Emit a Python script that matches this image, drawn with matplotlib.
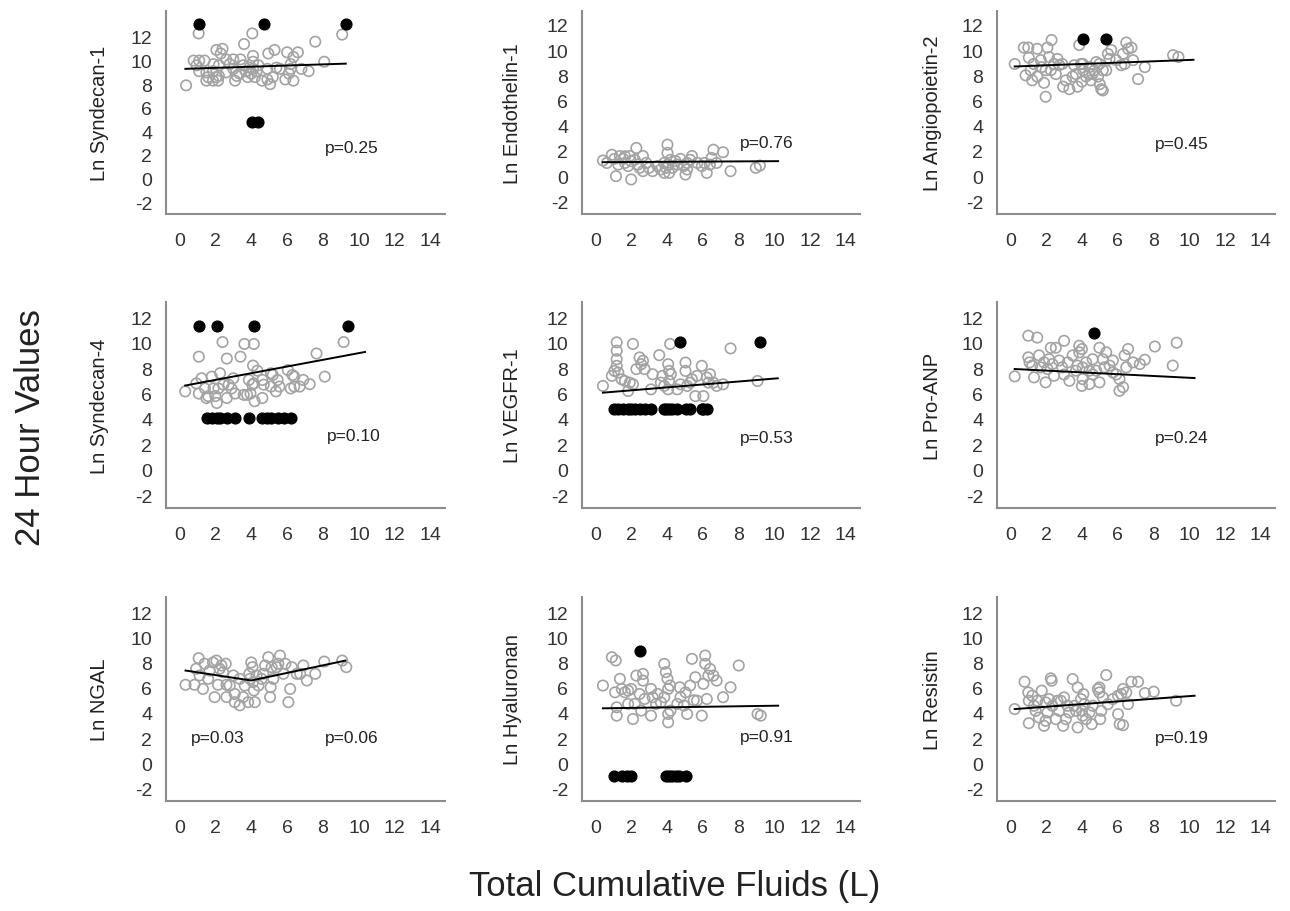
"""
24 hour biomarker values vs total cumulative fluids, 3x3 grid of scatter plots
"""

import matplotlib
matplotlib.use('Agg')
import matplotlib.pyplot as plt

plt.rcParams['font.family'] = ['Liberation Sans', 'DejaVu Sans']

x_ticks = [0, 2, 4, 6, 8, 10, 12, 14]
y_ticks = [-2, 0, 2, 4, 6, 8, 10, 12]

# Ln Syndecan-1
syn1_x = [1.07, 4.06, 3.6, 7.57, 9.07, 8.07, 0.37, 0.79, 1.1, 1.4, 2.06, 2.4, 2.3, 2.6, 3.0, 3.4,
          4.1, 4.95, 5.3, 6.0, 6.6, 6.35, 1.1, 1.5, 1.87, 1.5, 1.87, 2.05, 2.2, 2.6, 3.1, 3.2, 3.7,
          4.0, 4.3, 4.6, 5.05, 5.2, 5.6, 6.1, 6.35, 6.8, 7.2, 4.1, 4.4, 4.9, 5.4, 6.2, 3.0, 3.55,
          2.2, 1.9, 2.8, 3.35, 3.8, 4.2, 1.6, 2.15, 4.9, 5.9, 6.2, 4.1, 3.9, 0.95]
syn1_y = [12.3, 12.3, 11.4, 11.6, 12.2, 9.9, 7.9, 10.0, 10.0, 10.0, 10.9, 11.0, 10.6, 10.1, 10.1, 10.1,
          10.4, 10.6, 10.9, 10.7, 10.7, 10.3, 9.1, 9.0, 9.1, 8.3, 8.3, 8.6, 8.7, 9.0, 8.3, 8.7, 9.1,
          8.9, 9.1, 8.3, 8.0, 8.6, 9.3, 8.9, 8.3, 9.3, 9.1, 9.9, 9.6, 9.3, 9.4, 9.7, 9.3, 9.6,
          9.6, 9.7, 9.7, 8.9, 8.6, 8.6, 8.6, 8.3, 8.4, 8.4, 9.3, 9.3, 9.4, 9.6]
syn1_cens_x = [1.07, 4.73, 9.3, 4.06, 4.39]
syn1_cens_y = [13.1, 13.1, 13.1, 4.8, 4.8]
syn1_fit_x = [0.33, 9.27]
syn1_fit_y = [9.3, 9.74]

# Ln Endothelin-1
et1_x = [0.42, 0.92, 1.15, 1.37, 1.65, 1.92, 2.0, 2.29, 2.38, 2.66, 2.66, 3.0, 3.2, 3.48, 3.85, 4.03,
         4.03, 3.94, 4.12, 4.2, 4.58, 4.95, 5.04, 5.13, 5.3, 5.4, 5.7, 6.1, 6.23, 6.5, 6.6, 6.78,
         7.14, 7.56, 8.97, 9.2, 0.64, 1.28, 1.56, 1.83, 2.2, 2.47, 2.84, 3.66, 3.85, 4.07, 4.3,
         4.49, 4.76, 5.13, 5.95, 6.4, 2.0, 1.65, 1.06]
et1_y = [1.24, 1.7, 0.0, 1.6, 1.05, 1.6, -0.26, 2.24, 0.92, 1.6, 0.4, 0.66, 0.4, 0.8, 1.05, 2.5,
         1.85, 0.66, 0.26, 1.3, 0.92, 0.8, 0.13, 0.53, 1.3, 1.6, 1.05, 1.05, 0.26, 1.45, 2.1, 1.05,
         1.9, 0.4, 0.66, 0.84, 1.05, 0.92, 1.37, 0.8, 1.3, 0.66, 1.05, 0.53, 0.26, 0.92, 0.66,
         1.19, 1.37, 1.05, 0.8, 0.92, 1.19, 1.58, 1.37]
et1_cens_x = []
et1_cens_y = []
et1_fit_x = [0.42, 10.22]
et1_fit_y = [1.11, 1.19]

# Ln Angiopoietin-2
ang2_x = [0.24, 0.75, 1.0, 1.03, 1.13, 1.22, 1.5, 1.5, 1.7, 1.75, 1.88, 1.97, 2.07, 2.16, 2.26, 2.3,
          2.44, 2.54, 2.73, 2.95, 3.1, 3.3, 3.48, 3.67, 3.76, 3.85, 3.95, 4.0, 4.08, 4.23, 4.42,
          4.5, 4.6, 4.8, 4.9, 5.0, 5.08, 5.17, 4.98, 5.17, 5.36, 5.45, 5.55, 5.64, 5.92, 6.2, 6.3,
          6.48, 6.58, 6.39, 6.77, 6.86, 7.14, 7.52, 9.1, 9.4, 0.85, 1.3, 1.97, 2.63, 2.9, 3.57,
          4.05, 4.42, 4.7]
ang2_y = [8.9, 10.2, 10.2, 9.4, 8.4, 7.6, 7.9, 10.1, 9.2, 8.65, 7.4, 6.3, 10.2, 9.45, 8.4, 10.8,
          8.9, 8.1, 8.8, 7.1, 7.6, 6.9, 7.9, 8.1, 7.1, 10.4, 8.9, 7.5, 8.4, 7.9, 8.65,
          7.6, 8.1, 9.05, 7.9, 7.3, 6.9, 6.8, 8.9, 8.4, 8.4, 9.7, 9.3, 10.0, 9.2, 8.8, 9.7,
          10.6, 10.1, 8.9, 10.2, 9.2, 7.7, 8.65, 9.6, 9.45, 8.0, 8.9, 8.4, 9.3, 8.9, 8.8,
          8.9, 8.1, 8.4]
ang2_cens_x = [4.08, 5.36]
ang2_cens_y = [10.85, 10.85]
ang2_fit_x = [0.24, 10.24]
ang2_fit_y = [8.7, 9.23]

# Ln Syndecan-4
syn4_x = [0.32, 1.08, 1.08, 1.23, 1.42, 1.6, 1.8, 2.0, 2.08, 2.17, 2.26, 2.4, 2.64, 2.64, 2.74, 3.0,
          3.1, 3.4, 3.58, 3.62, 3.87, 3.96, 4.1, 4.15, 4.15, 4.19, 4.34, 4.62, 4.62, 5.1, 5.1,
          5.38, 5.47, 6.04, 6.4, 6.4, 6.7, 6.9, 7.26, 7.64, 8.1, 9.15, 0.94, 1.5, 1.9, 2.45, 2.9,
          3.77, 4.06, 4.7, 5.2, 6.2, 6.3, 5.57]
syn4_y = [6.17, 8.9, 6.0, 7.2, 6.4, 5.8, 7.33, 5.8, 5.26, 6.4, 7.6, 10.05, 8.75, 5.65, 6.7, 7.2,
          6.0, 8.9, 5.9, 9.9, 7.07, 6.0, 8.2, 9.9, 6.8, 5.4, 7.8, 5.65, 7.07, 7.6, 6.55,
          6.17, 7.07, 7.85, 7.33, 6.55, 6.55, 7.07, 6.74, 9.15, 7.33, 10.05, 6.8, 5.65, 6.4, 6.7, 6.4,
          5.9, 6.7, 6.7, 7.46, 6.4, 7.46, 6.55]
syn4_cens_x = [1.08, 2.1, 4.15, 9.4, 1.55, 1.8, 2.08, 2.26, 2.64, 3.1, 3.87, 4.62, 4.9, 5.1,
               5.47, 5.85, 6.23]
syn4_cens_y = [11.35, 11.35, 11.35, 11.35, 4.1, 4.1, 4.1, 4.1, 4.1, 4.1, 4.1, 4.1, 4.1, 4.1,
               4.1, 4.1, 4.1]
syn4_fit_x = [0.32, 10.34]
syn4_fit_y = [6.63, 9.27]

# Ln VEGFR-1
vegf_x = [0.42, 0.92, 1.06, 1.19, 1.19, 1.19, 1.19, 1.28, 1.65, 1.83, 2.1, 2.1, 2.29, 2.47, 2.56,
          2.66, 3.11, 3.2, 3.57, 3.75, 3.85, 4.07, 4.12, 4.12, 4.07, 4.18, 4.58, 5.04, 5.04, 5.13,
          5.4, 5.59, 5.95, 6.04, 6.23, 6.41, 6.6, 6.78, 7.14, 7.56, 9.07, 1.47, 1.92, 2.75, 3.66,
          4.22, 4.76, 5.3, 5.68, 6.32]
vegf_y = [6.6, 7.39, 7.78, 10.03, 9.37, 8.7, 8.18, 7.65, 6.99, 6.2, 9.9, 6.73, 7.92, 8.84, 8.31,
          8.58, 6.33, 7.52, 9.02, 7.39, 6.6, 8.31, 7.78, 6.99, 6.33, 9.9, 6.33, 8.44, 7.78, 6.6,
          7.12, 5.8, 8.18, 5.8, 7.26, 7.52, 6.86, 6.6, 6.73, 9.55, 6.99, 7.12, 6.86, 7.92, 6.86,
          7.52, 6.73, 6.86, 7.39, 6.86]
vegf_cens_x = [4.72, 9.2, 1.06, 1.28, 1.56, 1.83, 2.0, 2.23, 2.47, 2.75, 3.11, 3.85, 3.94, 4.12,
               4.3, 4.58, 5.04, 5.3, 5.95, 6.04, 6.23]
vegf_cens_y = [10.05, 10.05, 4.8, 4.8, 4.8, 4.8, 4.8, 4.8, 4.8, 4.8, 4.8, 4.8, 4.8, 4.8,
               4.8, 4.8, 4.8, 4.8, 4.8, 4.8, 4.8]
vegf_fit_x = [0.42, 10.2]
vegf_fit_y = [6.07, 7.2]

# Ln Pro-ANP
anp_x = [0.24, 1.0, 1.5, 1.0, 1.07, 1.32, 1.6, 1.88, 1.97, 2.16, 2.26, 2.44, 2.54, 2.73, 3.0, 3.0,
         3.3, 3.48, 3.76, 3.85, 4.0, 4.04, 4.0, 4.23, 4.42, 4.6, 4.98, 4.98, 5.17, 5.36, 5.55,
         5.73, 5.92, 6.1, 6.3, 6.1, 6.39, 6.48, 6.58, 6.86, 7.24, 7.52, 8.08, 9.08, 9.3, 1.22,
         1.69, 2.07, 2.35, 2.9, 3.2, 3.67, 4.04, 4.42, 4.8, 5.26, 5.73, 4.6, 3.85]
anp_y = [7.35, 10.55, 10.4, 8.85, 8.45, 7.27, 9.0, 8.45, 6.88, 8.7, 9.6, 7.4, 9.6, 8.6, 10.15, 7.5,
         7.0, 9.0, 8.2, 9.76, 9.5, 7.14, 6.6, 8.45, 6.75, 7.5, 9.6, 6.88, 8.7, 9.24, 8.2,
         8.6, 7.5, 7.14, 6.5, 6.22, 9.0, 8.06, 9.5, 8.45, 8.32, 8.66, 9.7, 8.2, 10.0, 8.2,
         8.06, 7.93, 8.32, 8.06, 8.45, 7.8, 8.06, 7.8, 7.8, 8.06, 7.66, 8.7, 9.24]
anp_cens_x = [4.7]
anp_cens_y = [10.8]
anp_fit_x = [0.24, 10.3]
anp_fit_y = [7.93, 7.22]

# Ln NGAL (piecewise fit, break near 4 L)
ngal_x = [0.34, 0.84, 1.07, 1.12, 1.31, 1.4, 1.6, 1.87, 1.96, 2.06, 2.15, 2.24, 2.34, 2.43, 2.58,
          2.62, 2.62, 3.0, 3.08, 3.08, 3.36, 3.55, 3.83, 3.89, 4.0, 4.07, 4.1, 4.15, 4.2, 4.3,
          4.58, 4.77, 4.95, 5.05, 5.08, 5.14, 5.42, 5.6, 5.9, 6.17, 6.07, 6.26, 6.54, 6.9, 7.1,
          7.57, 8.07, 9.07, 9.3, 0.93, 1.68, 2.8, 3.36, 3.64, 3.93, 4.4, 4.67, 5.23, 5.79, 5.51,
          6.73]
ngal_y = [6.23, 6.23, 8.34, 6.97, 5.9, 7.9, 6.7, 8.0, 5.25, 8.15, 6.23, 7.5, 7.76, 7.23, 7.9,
          5.25, 6.23, 6.97, 5.5, 4.85, 4.6, 5.25, 4.85, 7.1, 8.0, 7.63, 6.44, 5.78, 4.85, 6.97,
          6.7, 7.76, 8.42, 5.25, 6.04, 7.63, 7.63, 8.55, 7.9, 5.9, 4.85, 7.63, 7.1, 7.76, 6.57,
          7.1, 8.07, 8.15, 7.63, 7.5, 7.36, 6.17, 6.7, 6.17, 6.7, 6.17, 7.1, 6.7, 7.1, 7.9,
          7.1]
ngal_cens_x = []
ngal_cens_y = []
ngal_fit_x = [0.34, 4.0, 9.25]
ngal_fit_y = [7.36, 6.57, 8.15]

# Ln Hyaluronan
hya_x = [0.42, 0.92, 1.14, 1.1, 1.19, 1.19, 1.37, 1.47, 1.65, 1.83, 2.0, 2.1, 2.2, 2.29, 2.47, 2.56,
         2.66, 2.66, 3.11, 3.11, 3.2, 3.48, 3.66, 3.85, 3.94, 4.03, 4.07, 4.07, 4.07, 4.18, 4.2,
         4.58, 4.72, 5.04, 5.13, 5.3, 5.59, 5.5, 5.4, 5.95, 6.04, 6.14, 6.14, 6.32, 6.41, 6.6,
         6.78, 7.14, 7.56, 8.02, 9.07, 9.25, 1.83, 2.75, 3.39, 3.85, 4.76, 4.95, 5.68, 6.23]
hya_y = [6.17, 8.42, 8.16, 5.63, 4.44, 3.78, 6.7, 5.9, 5.63, 5.77, 5.9, 3.51, 4.71, 6.96, 5.5, 4.18,
         7.09, 6.56, 3.78, 5.9, 5.24, 5.5, 4.84, 7.89, 7.23, 6.7, 5.9, 3.91, 3.25, 6.17, 4.18,
         4.71, 6.03, 5.63, 3.91, 6.17, 6.83, 5.0, 8.29, 3.78, 6.3, 8.55, 7.89, 6.96, 7.49, 6.96,
         6.56, 5.24, 6.03, 7.76, 3.91, 3.78, 4.71, 5.1, 4.71, 5.24, 5.24, 4.58, 4.97, 5.1]
hya_cens_x = [2.47, 1.06, 1.47, 1.74, 2.0, 3.94, 4.12, 4.3, 4.49, 4.67, 5.09]
hya_cens_y = [8.95, -1.0, -1.0, -1.0, -1.0, -1.0, -1.0, -1.0, -1.0, -1.0, -1.0]
hya_fit_x = [0.42, 10.22]
hya_fit_y = [4.36, 4.57]

# Ln Resistin
res_x = [0.24, 0.79, 1.03, 1.0, 1.03, 1.22, 1.32, 1.5, 1.6, 1.75, 1.88, 1.97, 2.07, 2.16, 2.26, 2.31,
         2.35, 2.54, 2.73, 2.82, 2.95, 3.0, 3.1, 3.29, 3.48, 3.57, 3.76, 3.76, 3.95, 4.0, 4.04,
         4.08, 4.14, 4.23, 4.42, 4.55, 4.89, 4.98, 5.02, 5.08, 5.17, 5.36, 5.45, 6.02, 6.11, 6.3,
         6.2, 6.3, 6.48, 6.58, 6.77, 7.14, 7.52, 8.02, 9.27, 1.41, 1.97, 2.63, 3.2, 3.67, 4.6,
         4.98, 5.73, 6.02]
res_y = [4.3, 6.47, 3.18, 5.62, 4.96, 5.36, 4.56, 4.96, 3.63, 5.76, 2.97, 3.37, 4.03, 5.09, 6.74, 6.55,
         4.56, 3.5, 4.16, 4.96, 2.97, 5.23, 3.5, 4.03, 6.68, 4.56, 6.02, 2.84, 5.09, 4.16, 3.77,
         5.49, 4.69, 3.5, 4.03, 3.1, 5.89, 5.62, 3.5, 4.16, 5.23, 7.0, 4.69, 3.9, 3.1, 3.02,
         5.49, 5.89, 5.62, 4.69, 6.47, 6.47, 5.57, 5.68, 4.96, 4.16, 4.83, 4.96, 4.56, 4.16, 4.56,
         6.02, 5.09, 5.36]
res_cens_x = []
res_cens_y = []
res_fit_x = [0.24, 10.3]
res_fit_y = [4.3, 5.36]

panels = [
    ('Ln Syndecan-1', syn1_x, syn1_y, syn1_cens_x, syn1_cens_y, syn1_fit_x, syn1_fit_y,
     [(8.1, 2.6, 'p=0.25')], 14.2),
    ('Ln Endothelin-1', et1_x, et1_y, et1_cens_x, et1_cens_y, et1_fit_x, et1_fit_y,
     [(8.06, 2.64, 'p=0.76')], 13.1),
    ('Ln Angiopoietin-2', ang2_x, ang2_y, ang2_cens_x, ang2_cens_y, ang2_fit_x, ang2_fit_y,
     [(8.08, 2.59, 'p=0.45')], 13.1),
    ('Ln Syndecan-4', syn4_x, syn4_y, syn4_cens_x, syn4_cens_y, syn4_fit_x, syn4_fit_y,
     [(8.2, 2.67, 'p=0.10')], 13.2),
    ('Ln VEGFR-1', vegf_x, vegf_y, vegf_cens_x, vegf_cens_y, vegf_fit_x, vegf_fit_y,
     [(8.06, 2.56, 'p=0.53')], 13.2),
    ('Ln Pro-ANP', anp_x, anp_y, anp_cens_x, anp_cens_y, anp_fit_x, anp_fit_y,
     [(8.08, 2.57, 'p=0.24')], 13.2),
    ('Ln NGAL', ngal_x, ngal_y, ngal_cens_x, ngal_cens_y, ngal_fit_x, ngal_fit_y,
     [(0.65, 2.04, 'p=0.03'), (8.13, 2.04, 'p=0.06')], 13.2),
    ('Ln Hyaluronan', hya_x, hya_y, hya_cens_x, hya_cens_y, hya_fit_x, hya_fit_y,
     [(8.06, 2.1, 'p=0.91')], 13.2),
    ('Ln Resistin', res_x, res_y, res_cens_x, res_cens_y, res_fit_x, res_fit_y,
     [(8.08, 2.04, 'p=0.19')], 13.2),
]

W, H = 1290, 912
fig = plt.figure(figsize=(W / 100, H / 100), dpi=100)

# axes boxes in pixels (left, top, right, bottom)
col_px = [(166, 445), (582, 860), (997, 1275)]
row_px = [(12, 215), (303, 509), (598, 802)]
ylab_x = [-0.204, -0.216, -0.198]

spine_col = '#8c8c8c'
for i, (label, xs, ys, cx, cy, fx, fy, ptexts, ytop) in enumerate(panels):
    r, c = divmod(i, 3)
    l, rr = col_px[c]
    t, b = row_px[r]
    ax = fig.add_axes([l / W, 1 - b / H, (rr - l) / W, (b - t) / H])

    ax.scatter(xs, ys, s=56, facecolors='none', edgecolors='#a3a3a3', linewidths=1.2, zorder=2)
    if cx:
        ax.scatter(cx, cy, s=60, color='black', zorder=3)
    ax.plot(fx, fy, color='black', linewidth=1.4, zorder=4)
    for tx, ty, s in ptexts:
        ax.text(tx, ty, s, fontsize=12.5, color='#222222', va='center', ha='left')

    ax.set_xlim(-0.75, 14.8)
    ax.set_ylim(-3, ytop)
    ax.set_xticks(x_ticks)
    ax.set_yticks(y_ticks)
    ax.set_yticklabels([str(v) for v in y_ticks])
    ax.tick_params(length=0, labelsize=14, colors='#333333')
    ax.tick_params(axis='x', pad=13)
    ax.tick_params(axis='y', pad=10)
    for side in ['top', 'right']:
        ax.spines[side].set_visible(False)
    for side in ['left', 'bottom']:
        ax.spines[side].set_color(spine_col)
        ax.spines[side].set_linewidth(1.5)
    ax.set_ylabel(label, fontsize=14.5, color='#222222')
    ax.yaxis.set_label_coords(ylab_x[c], 0.5)

fig.text(0.024, 0.531, '24 Hour Values', rotation=90, fontsize=25, va='center', ha='center',
         color='#222222')
fig.text(0.523, 0.028, 'Total Cumulative Fluids (L)', fontsize=25, va='center', ha='center',
         color='#222222')

fig.savefig('out.png', dpi=100)
